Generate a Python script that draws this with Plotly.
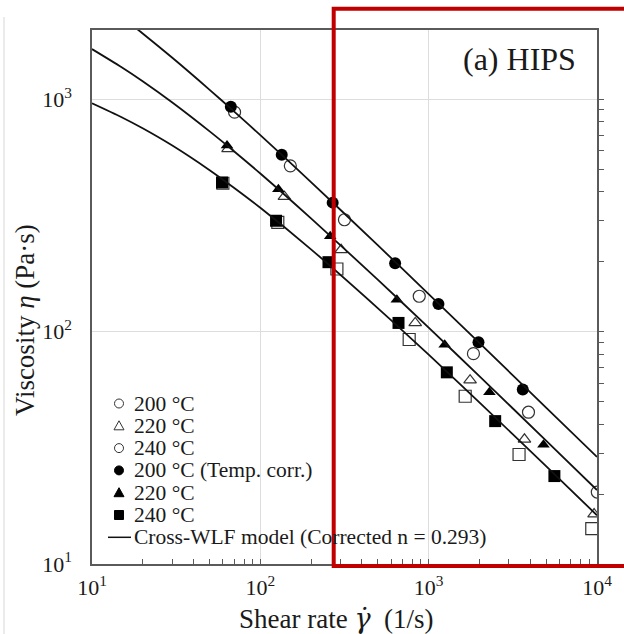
import plotly.graph_objects as go

# ---------------- data ----------------
shear_200_open = [70.3, 150.7, 316, 879, 1845, 3917, 10040]
visc_200_open = [880, 517, 303, 142, 80.4, 45, 20.4]

shear_220_open = [64.3, 139, 302, 832, 1762, 3707, 9610]
visc_220_open = [611, 381, 225, 109, 61.8, 34.4, 16.4]

shear_240_open = [59.9, 127, 285, 766, 1648, 3443, 9310]
visc_240_open = [435, 295, 186, 92.5, 52.7, 29.6, 14.2]

shear_200_corr = [66.8, 134, 269, 632, 1143, 1977, 3622]
visc_200_corr = [929, 577, 359, 197, 131.5, 90, 56.4]

shear_220_corr = [63.4, 128, 260, 647, 1245, 2296, 4808]
visc_220_corr = [632, 410, 257, 137, 87.9, 54.8, 32.6]

shear_240_corr = [59.2, 124, 254, 662, 1282, 2484, 5584]
visc_240_corr = [438, 300, 199, 109, 66.8, 41.2, 23.9]

model_shear = [10, 15, 20, 30, 50, 70, 100, 200, 500, 1000, 2000, 5000, 10000]
model_200 = [2812, 2260, 1919, 1508, 1098, 885, 701, 440, 235, 145, 89.4, 47.0, 28.9]
model_220 = [1644, 1373, 1195, 968, 727, 596, 479, 307, 167, 104, 64.3, 33.9, 20.8]
model_240 = [961, 837, 750, 632, 495, 415, 341, 226, 126, 79.6, 49.6, 26.3, 16.2]

legend_labels = ["200 °C", "220 °C", "240 °C", "200 °C (Temp. corr.)",
                 "220 °C", "240 °C", "Cross-WLF model (Corrected n = 0.293)"]
panel_label = "(a) HIPS"
x_title = ("Shear rate <span style=\"font-family:'DejaVu Serif'\"><i>γ\u0307</i></span>"
           "  (1/s)")
y_title = "Viscosity <i>η</i> (Pa·s)"

x_major_ticks = [10, 100, 1000, 10000]
x_major_text = ["10<sup>1</sup>", "10<sup>2</sup>", "10<sup>3</sup>", "10<sup>4</sup>"]
y_major_ticks = [10, 100, 1000]
y_major_text = ["10<sup>1</sup>", "10<sup>2</sup>", "10<sup>3</sup>"]
x_minor_ticks = [20, 30, 40, 50, 60, 70, 80, 90,
                 200, 300, 400, 500, 600, 700, 800, 900,
                 2000, 3000, 4000, 5000, 6000, 7000, 8000, 9000]
y_right_ticks = [10, 20, 30, 40, 50, 60, 70, 80, 90,
                 100, 200, 300, 400, 500, 600, 700, 800, 900, 1000]

# ---------------- layout geometry ----------------
W, H = 624, 634
L, R, T, B = 92, 27, 30, 70
PW, PH = W - L - R, H - T - B
FONT = "Liberation Serif"
INK = "#1a1a1a"
AXC = "#5a5a5a"


def px(x):
    return (x - L) / PW


def py(y):
    return (H - B - y) / PH


fig = go.Figure()

open_line = dict(color="#333333", width=1.2)
fig.add_trace(go.Scatter(x=shear_240_open, y=visc_240_open, mode="markers",
                         marker=dict(symbol="square-open", size=12, line=open_line, color="#333333"),
                         showlegend=False))
fig.add_trace(go.Scatter(x=shear_220_open, y=visc_220_open, mode="markers",
                         marker=dict(symbol="triangle-up-open", size=11, line=open_line, color="#333333"),
                         showlegend=False))
fig.add_trace(go.Scatter(x=shear_200_open, y=visc_200_open, mode="markers",
                         marker=dict(symbol="circle-open", size=12, line=open_line, color="#333333"),
                         showlegend=False))
fig.add_trace(go.Scatter(x=shear_200_corr, y=visc_200_corr, mode="markers",
                         marker=dict(symbol="circle", size=12, color="#000000"), showlegend=False))
fig.add_trace(go.Scatter(x=shear_220_corr, y=visc_220_corr, mode="markers",
                         marker=dict(symbol="triangle-up", size=11, color="#000000"), showlegend=False))
fig.add_trace(go.Scatter(x=shear_240_corr, y=visc_240_corr, mode="markers",
                         marker=dict(symbol="square", size=12, color="#000000"), showlegend=False))

for ys in (model_200, model_220, model_240):
    fig.add_trace(go.Scatter(x=model_shear, y=ys, mode="lines", yaxis="y2",
                             line=dict(color="#111111", width=1.8, shape="spline", smoothing=0.8),
                             showlegend=False, hoverinfo="skip"))

yr = [1, 3.298]
fig.update_layout(
    width=W, height=H, autosize=False,
    margin=dict(l=L, r=R, t=T, b=B, pad=0),
    paper_bgcolor="white", plot_bgcolor="white",
    font=dict(family=FONT, color=INK),
    showlegend=False,
    xaxis=dict(type="log", range=[1, 4], tickmode="array",
               tickvals=x_major_ticks, ticktext=x_major_text,
               showline=True, linecolor=AXC, linewidth=1.5, mirror=True,
               ticks="inside", ticklen=5, tickcolor=AXC, tickwidth=1,
               minor=dict(tickvals=x_minor_ticks, ticks="inside", ticklen=5,
                          tickcolor=AXC, tickwidth=1, showgrid=False),
               showgrid=True, gridcolor="#dddddd", gridwidth=1, zeroline=False,
               tickfont=dict(family=FONT, size=22, color=INK), ticklabelstandoff=3),
    yaxis=dict(type="log", range=yr, tickmode="array",
               tickvals=y_major_ticks, ticktext=y_major_text,
               showline=True, linecolor=AXC, linewidth=1.5, mirror=True,
               ticks="", showgrid=True, gridcolor="#dddddd", gridwidth=1, zeroline=False,
               tickfont=dict(family=FONT, size=22, color=INK), ticklabelstandoff=14),
    yaxis2=dict(type="log", range=yr, overlaying="y", side="right", anchor="x",
                tickmode="array", tickvals=y_right_ticks, ticks="outside", ticklen=6,
                tickcolor=AXC, tickwidth=1, showticklabels=False, showgrid=False,
                showline=False, zeroline=False),
)

annotations = [
    dict(text=panel_label, xref="paper", yref="paper", x=px(578), y=py(59),
         xanchor="right", yanchor="middle", showarrow=False,
         font=dict(family=FONT, size=32, color=INK)),
    dict(text=x_title, xref="paper", yref="paper", x=px(336), y=py(618),
         xanchor="center", yanchor="middle", showarrow=False,
         font=dict(family=FONT, size=27, color=INK)),
    dict(text=y_title, xref="paper", yref="paper", x=px(25), y=py(320),
         xanchor="center", yanchor="middle", showarrow=False, textangle=-90,
         font=dict(family=FONT, size=27, color=INK)),
]

shapes = []
row_y = [403.5, 425.8, 448.1, 470.4, 492.7, 515.0, 537.3]
sx = 119
kinds = ["circle-open", "triangle-open", "circle-open", "circle", "triangle", "square", "line"]
for lab, yy, kind in zip(legend_labels, row_y, kinds):
    annotations.append(dict(text=lab, xref="paper", yref="paper", x=px(132), y=py(yy),
                            xanchor="left", yanchor="middle", showarrow=False,
                            font=dict(family=FONT, size=21.5, color=INK)))
    filled = not kind.endswith("open")
    fc = "#000000" if filled else "rgba(0,0,0,0)"
    lc = dict(color="#333333" if not filled else "#000000", width=1)
    if kind.startswith("circle"):
        shapes.append(dict(type="circle", xref="paper", yref="paper",
                           x0=px(sx - 4.5), x1=px(sx + 4.5), y0=py(yy + 4.5), y1=py(yy - 4.5),
                           fillcolor=fc, line=lc))
    elif kind.startswith("triangle"):
        path = "M {:.5f},{:.5f} L {:.5f},{:.5f} L {:.5f},{:.5f} Z".format(
            px(sx - 5), py(yy + 4), px(sx + 5), py(yy + 4), px(sx), py(yy - 5))
        shapes.append(dict(type="path", xref="paper", yref="paper", path=path,
                           fillcolor=fc, line=lc))
    elif kind == "square":
        shapes.append(dict(type="rect", xref="paper", yref="paper",
                           x0=px(sx - 4.5), x1=px(sx + 4.5), y0=py(yy + 4.5), y1=py(yy - 4.5),
                           fillcolor=fc, line=lc))
    else:
        shapes.append(dict(type="line", xref="paper", yref="paper",
                           x0=px(108), x1=px(131), y0=py(yy), y1=py(yy),
                           line=dict(color="#111111", width=1.5)))

# red highlight frame
shapes.append(dict(type="rect", xref="paper", yref="paper",
                   x0=px(333.7), x1=px(660), y0=py(566), y1=py(8.7),
                   line=dict(color="#c00000", width=4), fillcolor="rgba(0,0,0,0)"))
# faint left border of the figure image
shapes.append(dict(type="line", xref="paper", yref="paper",
                   x0=px(4), x1=px(4), y0=py(17), y1=py(640),
                   line=dict(color="#e4e4e4", width=1.5)))

fig.update_layout(annotations=annotations, shapes=shapes)
fig.write_html("out.html")
